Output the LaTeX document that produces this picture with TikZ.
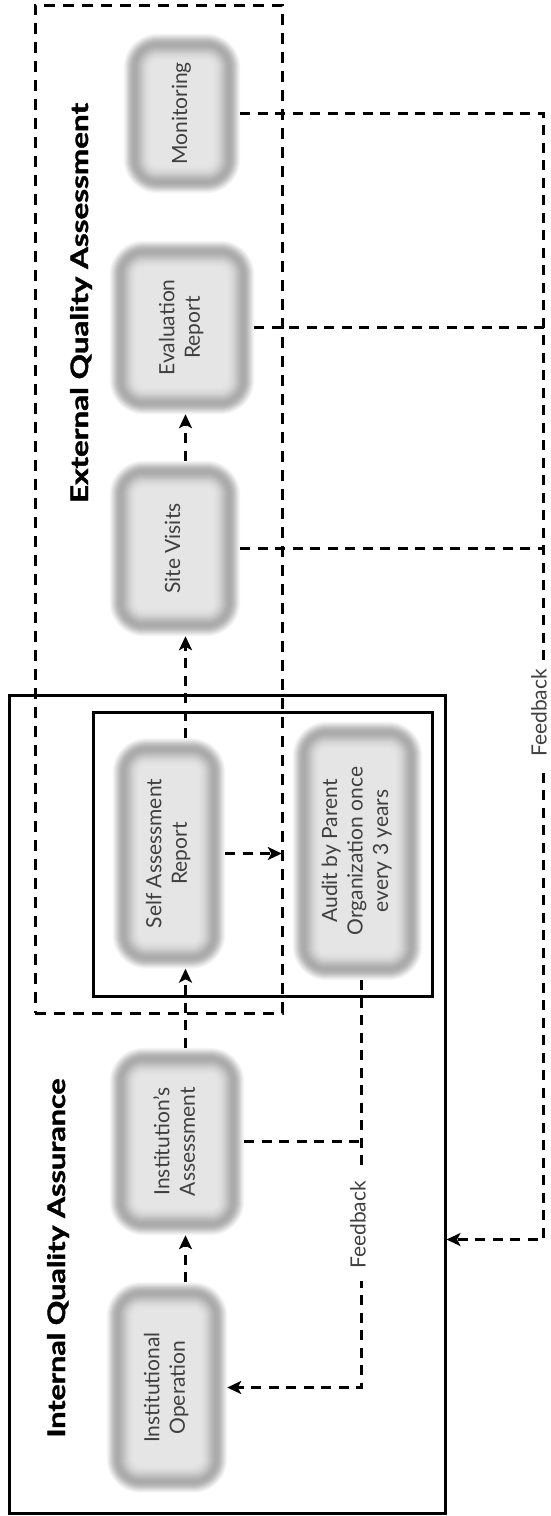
\documentclass[tikz,border=0pt]{standalone}
\usepackage{fontspec}
\setmainfont{Lato}
\newfontfamily\ttlfont[BoldFeatures={FakeBold=1.5}]{Lato}
\usepackage{graphicx}
\usetikzlibrary{arrows.meta,backgrounds,calc}
\tikzset{
  box/.style={rectangle, inner sep=0pt, text=black!75, font=\fontsize{21}{25.5}\selectfont},
  arr/.style={line width=3pt, dash pattern=on 10pt off 7.5pt, -{Stealth[length=14pt,width=13pt,inset=3.5pt]}},
  fb/.style={line width=3pt, dash pattern=on 10pt off 7.5pt},
  frame/.style={draw, line width=3pt, inner sep=0pt},
  dbox/.style={draw, line width=3pt, dash pattern=on 11pt off 8pt, inner sep=0pt},
  lbl/.style={rotate=90, fill=white, text=black!75, font=\fontsize{21}{25}\selectfont, inner ysep=0pt},
  ttl/.style={rotate=90, anchor=base, font=\fontsize{24}{28}\selectfont\ttlfont\bfseries},
}
\newcommand\rt[1]{\rotatebox{90}{\begin{tabular}{@{}c@{}}#1\end{tabular}}}
\newcommand\pillow[1]{%
  \foreach \d/\c in {0/4,1/7,2/11,3/15,4/19,5/23,6/26,7/29,8/31,9/32,10/33,11/33,12/32,13/31,14/29,15/27,16/25,17/23,18/21,19/19,20/17,21/15.5,22/14,23/13,24/12,25/11,26/10.5,27/10}{%
    \pgfmathsetmacro\r{max(34-\d,4)}%
    \fill[black!\c, rounded corners=\r pt] ($(#1.north west)+(\d,\d)$) rectangle ($(#1.south east)+(-\d,-\d)$);
  }}
\begin{document}
\begin{tikzpicture}[x=1pt,y=-1pt]
\useasboundingbox (0,0) rectangle (550,1516);
% process nodes
\node[box, minimum width=116pt, minimum height=159pt] (mon) at (182,113.5) {\rt{Monitoring}};
\node[box, minimum width=144pt, minimum height=173pt] (eval) at (182,327.5) {\rt{Evaluation\\Report}};
\node[box, minimum width=130pt, minimum height=175pt] (site) at (175,548.5) {\rt{Site Visits}};
\node[box, minimum width=112pt, minimum height=230pt] (self) at (169,853.5) {\rt{Self Assessment\\Report}};
\node[box, minimum width=129pt, minimum height=258pt] (audit) at (357.5,851) {\rt{Audit by Parent\\Organization once\\every 3 years}};
\node[box, minimum width=134pt, minimum height=187pt] (inst) at (177,1141.5) {\rt{Institution's\\Assessment}};
\node[box, minimum width=120pt, minimum height=210pt] (op) at (167,1387.5) {\rt{Institutional\\Operation}};
% frames
\node[frame, minimum width=436pt, minimum height=818pt] (iqa) at (227,1104) {};
\node[frame, minimum width=339pt, minimum height=284pt] (inner) at (262.5,854) {};
\node[dbox, minimum width=247pt, minimum height=1008pt] (eqa) at (158.5,509) {};
% titles
\node[ttl] (ttlE) at (88,303) {\resizebox{400pt}{\height}{External Quality Assessment}};
\node[ttl] (ttlI) at (65,1258) {\resizebox{359pt}{\height}{Internal Quality Assurance}};
% helper coordinates
\coordinate (ax) at (185.5,0);
\coordinate (fbl) at (361.5,0);
\coordinate (fbr) at (543.5,0);
\coordinate (fbend) at (543.5,1239.5);
% main flow
\draw[arr] (op.north -| ax) -- (inst.south -| ax);
\draw[arr] (inst.north -| ax) -- (self.south -| ax);
\draw[arr] (self.north -| ax) -- (site.south -| ax);
\draw[arr] (site.north -| ax) -- (eval.south -| ax);
\draw[arr, shorten >=11pt] (self.east) -- (self.east -| audit.west);
% feedback loops
\draw[arr] (mon.east) -- (mon.east -| fbr) -- (fbend) -- (fbend -| iqa.east);
\draw[fb] (eval.east) -- (eval.east -| fbr);
\draw[fb] (site.east) -- (site.east -| fbr);
\draw[arr] (audit.south -| fbl) -- (fbl |- op.east) -- (op.east);
\draw[fb] (inst.east) -- (inst.east -| fbl);
\node[lbl, inner xsep=12pt] (fbL) at (358,1225) {Feedback};
\node[lbl, inner xsep=8pt] (fbR) at (539,713) {Feedback};
% pillows
\begin{scope}[on background layer]
\fill[white] (0,0) rectangle (550,1516);
\pillow{mon}\pillow{eval}\pillow{site}\pillow{self}\pillow{audit}\pillow{inst}\pillow{op}
\end{scope}
\end{tikzpicture}
\end{document}
